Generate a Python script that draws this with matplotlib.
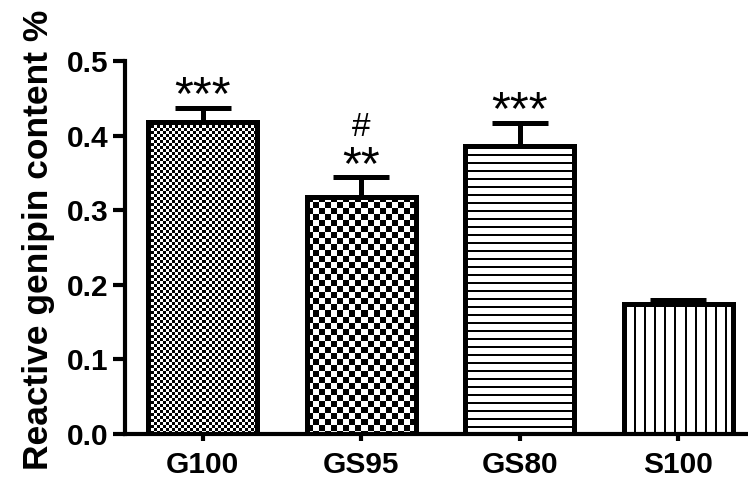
import numpy as np
import matplotlib
matplotlib.use("Agg")
import matplotlib.pyplot as plt

groups = ["G100", "GS95", "GS80", "S100"]
means = [0.418, 0.318, 0.386, 0.174]
errs = [0.019, 0.026, 0.031, 0.006]
marks = ["***", "#\n**", "***", ""]
fills = ["fine_checker", "checker", "hlines", "vlines"]

W, H = 748, 482
fig = plt.figure(figsize=(W / 100, H / 100), dpi=100)
ax = fig.add_axes([125 / W, 48 / H, 623 / W, 373 / H])

x = np.arange(len(groups))
ax.set_xlim(-0.49, 3.44)
ax.set_ylim(0, 0.5)


def pattern(kind, w, h):
    j, i = np.meshgrid(np.arange(w), np.arange(h))
    if kind == "fine_checker":
        return ((i // 3 + j // 3) % 2).astype(float)
    if kind == "checker":
        return ((i // 6 + j // 6) % 2).astype(float)
    if kind == "hlines":
        return (i % 8 >= 2).astype(float)
    return (j % 10 >= 2).astype(float)


bw = 0.69
bars = ax.bar(x, means, width=bw, facecolor="none", edgecolor="black",
              linewidth=3.6, zorder=3)

# fill patterns drawn as images clipped to each bar
for b, kind in zip(bars, fills):
    x0, y0 = b.get_x(), 0
    x1, y1 = x0 + b.get_width(), b.get_height()
    p0 = ax.transData.transform((x0, y0))
    p1 = ax.transData.transform((x1, y1))
    pw, ph = int(round(p1[0] - p0[0])), int(round(p1[1] - p0[1]))
    im = ax.imshow(pattern(kind, pw, ph), extent=(x0, x1, y0, y1), cmap="gray",
                   vmin=0, vmax=1, interpolation="nearest", aspect="auto",
                   origin="upper", zorder=2)
    im.set_clip_path(b)

ax.errorbar(x, means, yerr=[np.zeros(len(errs)), errs], fmt="none", ecolor="black",
            elinewidth=3.6, capsize=20.5, capthick=3.6, zorder=1)

for xi, m, e, t in zip(x, means, errs, marks):
    if not t:
        continue
    lines = t.split("\n")
    # stars closest to the cap, '#' above them
    ax.annotate(lines[-1], (xi, m + e), xytext=(0, -1), textcoords="offset points",
                ha="center", va="baseline", fontsize=35, family="Liberation Sans")
    if len(lines) > 1:
        ax.annotate(lines[0], (xi, m + e), xytext=(0, 30), textcoords="offset points",
                    ha="center", va="baseline", fontsize=24, family="Liberation Sans")

ax.set_xticks(x)
ax.set_xticklabels(groups)
ax.set_yticks(np.arange(0, 0.51, 0.1))
ax.set_yticklabels(["%.1f" % v for v in np.arange(0, 0.51, 0.1)])
for lab in ax.get_xticklabels() + ax.get_yticklabels():
    lab.set_fontfamily("Liberation Sans")
    lab.set_fontweight("bold")
    lab.set_fontsize(21.5)

ax.spines["top"].set_visible(False)
ax.spines["right"].set_visible(False)
ax.spines["left"].set_linewidth(3)
ax.spines["bottom"].set_linewidth(3)
ax.tick_params(axis="y", length=9, width=3, pad=3)
ax.tick_params(axis="x", length=5, width=3, pad=7)

ax.set_ylabel("Reactive genipin content %", fontsize=25.5, fontweight="bold",
              family="Liberation Sans")
ax.yaxis.set_label_coords(-0.112, 0.52)

fig.savefig("out.png", dpi=100)
